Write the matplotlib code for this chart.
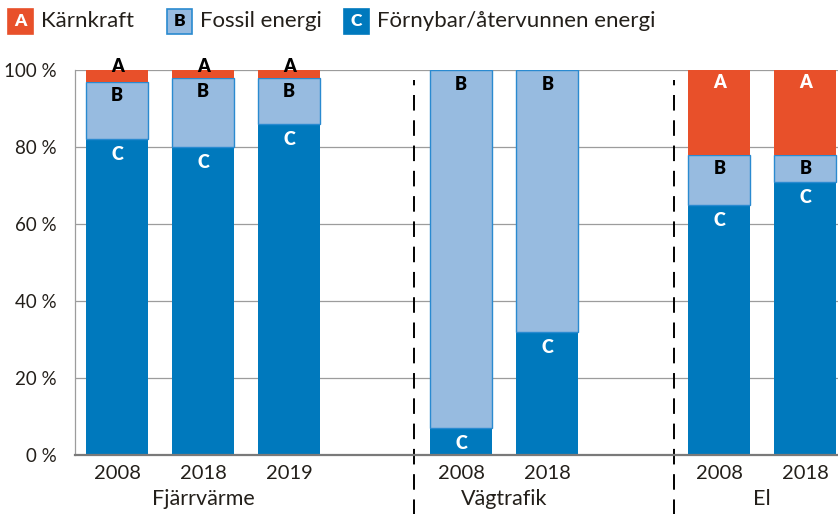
import matplotlib.pyplot as plt
from matplotlib.patches import Rectangle

# data (percent shares)
groups = ['Fjärrvärme', 'Vägtrafik', 'El']
years = [['2008', '2018', '2019'], ['2008', '2018'], ['2008', '2018']]
fornybar = [82, 80, 86, 7, 32, 65, 71]   # C
fossil = [15, 18, 12, 93, 68, 13, 7]     # B
karnkraft = [3, 2, 2, 0, 0, 22, 22]      # A
yticks = [0, 20, 40, 60, 80, 100]

ORANGE = '#E8502A'
LIGHT = '#97BBE0'
EDGE = '#2A8AD0'
BLUE = '#0079BD'
TXT = '#231F1A'

plt.rcParams['font.family'] = ['Lato', 'DejaVu Sans']

fig = plt.figure(figsize=(8.38, 5.14), dpi=100)
ax = fig.add_axes([75 / 838, 1 - 455 / 514, 1 - 75 / 838, 385 / 514])

# bar slots: groups separated by an empty slot
pos = []
slot = 0
for yrs in years:
    for _ in yrs:
        pos.append(slot)
        slot += 1
    slot += 1
w = 0.72

ax.bar(pos, fornybar, width=w, color=BLUE, zorder=3)
ax.bar(pos, fossil, width=w, bottom=fornybar, color=LIGHT, edgecolor=EDGE,
       linewidth=1, zorder=3)
tops = [c + b for c, b in zip(fornybar, fossil)]
ax.bar(pos, karnkraft, width=w, bottom=tops, color=ORANGE, zorder=3)

# segment letters
lab = dict(ha='center', va='center', fontsize=13, fontweight='heavy', zorder=5)
for x, c, b, a in zip(pos, fornybar, fossil, karnkraft):
    ax.text(x, c - 4, 'C', color='white', **lab)
    ax.text(x, c + b - 3.7, 'B', color='black', **lab)
    if a >= 10:
        ax.text(x, 100 - 3.2, 'A', color='white', **lab)
    elif a > 0:
        ax.text(x, 100 + 0.8, 'A', color='black', clip_on=False, **lab)

ax.set_xlim(-0.49, 8.38)
ax.set_ylim(0, 100)
ax.set_yticks(yticks)
ax.set_yticklabels([f'{t} %' for t in yticks], fontsize=13.5, color=TXT)
ax.tick_params(axis='y', length=0, pad=13)
ax.tick_params(axis='x', length=0, pad=7, labelsize=14.5, labelcolor=TXT)
ax.set_xticks(pos)
ax.set_xticklabels([y for yrs in years for y in yrs])
ax.grid(axis='y', color='#9C9C9C', linewidth=0.9, zorder=0)
for s in ['top', 'right']:
    ax.spines[s].set_visible(False)
ax.spines['left'].set_color('#9C9C9C')
ax.spines['left'].set_linewidth(0.9)
ax.spines['bottom'].set_color('#7A7A7A')
ax.spines['bottom'].set_linewidth(1.6)
ax.spines['bottom'].set_zorder(4)

# group labels and separators
i = 0
for g, yrs in zip(groups, years):
    gp = pos[i:i + len(yrs)]
    ax.text(sum(gp) / len(gp), -0.115, g, transform=ax.get_xaxis_transform(),
            ha='center', va='center', fontsize=15.5, color=TXT)
    i += len(yrs)
for xs in [3.45, 6.47]:
    ax.plot([xs, xs], [-0.155, 0.975], transform=ax.get_xaxis_transform(),
            color='black', linewidth=1.4, dashes=(8, 5), clip_on=False, zorder=2)

# legend
legend = [('A', 'Kärnkraft', ORANGE, ORANGE, 'white', 8),
          ('B', 'Fossil energi', LIGHT, EDGE, 'black', 167),
          ('C', 'Förnybar/återvunnen energi', BLUE, BLUE, 'white', 344)]
for letter, label, fc, ec, tc, px in legend:
    fig.add_artist(Rectangle((px / 838, 1 - 34 / 514), 25 / 838, 25 / 514,
                             transform=fig.transFigure, facecolor=fc,
                             edgecolor=ec, linewidth=1.2))
    fig.text((px + 12.5) / 838, 1 - 21.5 / 514, letter, ha='center',
             va='center', color=tc, fontsize=12.5, fontweight='heavy')
    fig.text((px + 33) / 838, 1 - 21 / 514, label, ha='left', va='center',
             fontsize=16, color=TXT)

fig.savefig('out.png', dpi=100)
